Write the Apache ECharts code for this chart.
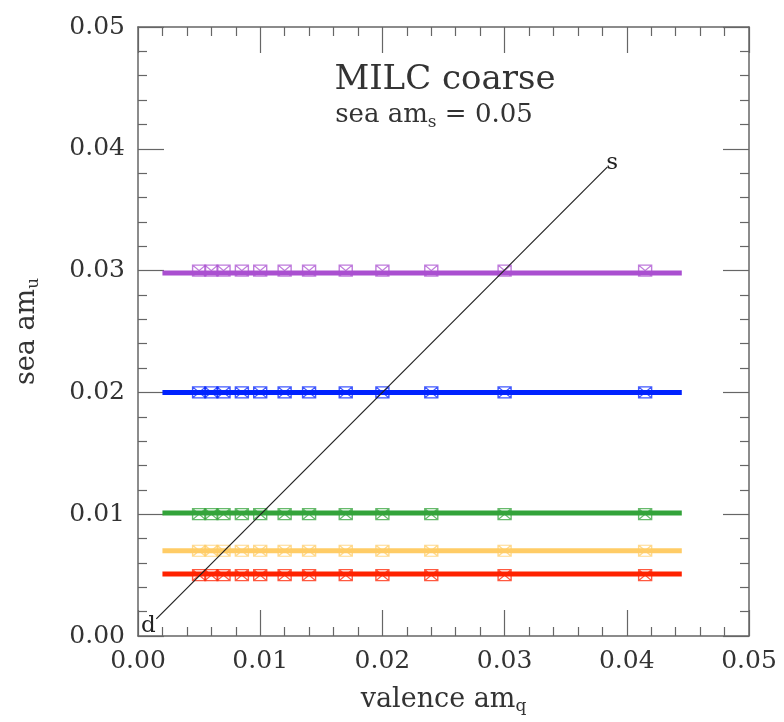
<!DOCTYPE html>
<html>
<head>
<meta charset="utf-8">
<script src="https://cdn.jsdelivr.net/npm/echarts@6/dist/echarts.min.js"></script>
<style>
  html, body { margin: 0; padding: 0; background: #fff; }
  #chart { width: 784px; height: 722px; }
</style>
</head>
<body>
<div id="chart"></div>
<script>
// valence quark masses used on every sea ensemble
var valenceMasses = [0.005, 0.006, 0.007, 0.0085, 0.01, 0.012, 0.014, 0.017, 0.02, 0.024, 0.03, 0.0415];
// sea light-quark masses (one row of points each)
var seaMasses = [0.005, 0.007, 0.01, 0.02, 0.03];
// level of the thick fitted line for each sea mass
var fitLevels = [0.0051, 0.0070, 0.0101, 0.0200, 0.0298];
var fitRange = [0.002, 0.0445];
var seriesColors = ['#ff2200', '#ffcc66', '#33a33a', '#0022ff', '#aa4fd0'];
// the d -> s line
var physLine = [[0.0015, 0.0014], [0.0384, 0.0385]];
var axisTicks = [0, 0.01, 0.02, 0.03, 0.04, 0.05];

var FONT = 'DejaVu Serif';
var boxSymbol = 'path://M0,0 L12,0 L12,11 L0,11 Z M0,0 L12,11 M12,0 L0,11';

function makeAxis(pos, showLabel, name, nameGap) {
  return {
    type: 'value',
    position: pos,
    min: axisTicks[0],
    max: axisTicks[axisTicks.length - 1],
    interval: axisTicks[1] - axisTicks[0],
    name: name,
    nameLocation: 'middle',
    nameGap: nameGap,
    nameTextStyle: {
      fontFamily: FONT, fontSize: 27, color: '#333',
      rich: { sub: { fontFamily: FONT, fontSize: 17, color: '#333', padding: [14, 0, 0, 0] } }
    },
    axisLine: { show: true, onZero: false, lineStyle: { color: '#666', width: 1.5 } },
    axisTick: { show: true, inside: true, length: 26, lineStyle: { color: '#666', width: 1.2 } },
    minorTick: { show: true, splitNumber: 5, length: 9, lineStyle: { color: '#666', width: 1.2 } },
    splitLine: { show: false },
    axisLabel: {
      show: showLabel,
      fontFamily: FONT, fontSize: 25, color: '#333',
      margin: 13,
      formatter: function (v) { return v.toFixed(2); }
    }
  };
}

var series = [];
seaMasses.forEach(function (sea, i) {
  series.push({
    type: 'scatter',
    symbol: boxSymbol,
    symbolSize: [13, 11],
    itemStyle: { color: 'rgba(255,255,255,0)', borderColor: seriesColors[i], borderWidth: 1.3, opacity: 0.75 },
    z: 2,
    data: valenceMasses.map(function (v) { return [v, sea]; })
  });
  series.push({
    type: 'line',
    symbol: 'none',
    lineStyle: { color: seriesColors[i], width: 5 },
    z: 3,
    data: [[fitRange[0], fitLevels[i]], [fitRange[1], fitLevels[i]]]
  });
});

// the d-s line with letters at its ends
series.push({
  type: 'line',
  symbol: 'circle',
  symbolSize: 0.1,
  showSymbol: true,
  itemStyle: { color: 'rgba(0,0,0,0)' },
  lineStyle: { color: '#222', width: 1.2 },
  z: 4,
  label: { show: true, position: 'inside', fontFamily: FONT, fontSize: 23, color: '#222' },
  data: [
    { value: physLine[0], label: { formatter: 'd', offset: [-8, 7] } },
    { value: physLine[1], label: { formatter: 's', offset: [5, -4] } }
  ]
});

var chart = echarts.init(document.getElementById('chart'), null, { renderer: 'canvas' });
chart.setOption({
  backgroundColor: '#fff',
  animation: false,
  grid: { left: 138, right: 35, top: 27, bottom: 86, containLabel: false },
  xAxis: [
    makeAxis('bottom', true, 'valence am{sub|q}', 48),
    makeAxis('top', false, '', 0)
  ],
  yAxis: [
    makeAxis('left', true, 'sea am{sub|u}', 96),
    makeAxis('right', false, '', 0)
  ],
  graphic: [
    {
      type: 'text', x: 445, y: 63,
      style: { text: 'MILC coarse', font: '34px "DejaVu Serif"', fill: '#333', textAlign: 'center' }
    },
    {
      type: 'text', x: 434, y: 100,
      style: {
        text: 'sea am{sub|s} = 0.05', textAlign: 'center',
        font: '26px "DejaVu Serif"', fill: '#333',
        rich: { sub: { font: '17px "DejaVu Serif"', fill: '#333', padding: [14, 0, 0, 0] } }
      }
    }
  ],
  series: series
});
</script>
</body>
</html>
